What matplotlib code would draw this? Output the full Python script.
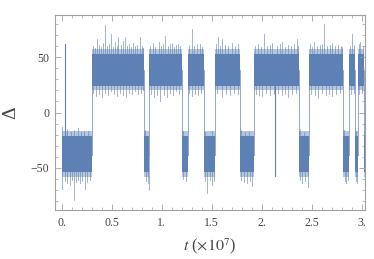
import matplotlib.pyplot as plt
import numpy as np

plt.rcParams["mathtext.fontset"] = "stix"

# switching times (units of 1e7) and state of the segment that starts there
switch_t = [0.0, 0.30, 0.825, 0.875, 1.20, 1.26, 1.42, 1.535, 1.78, 1.92,
            2.375, 2.47, 2.815, 2.87, 2.935, 2.96, 3.028, 3.035]
state = [-1, 1, -1, 1, -1, 1, -1, 1, -1, 1, -1, 1, -1, 1, -1, 1, -1]

# dense part of the noisy signal in each state: (fringe low, core low, core high, fringe high)
high_band = (20, 24, 53, 57)
low_band = (-58, -54, -21, -17)
high_level = 38
low_level = -38

# excursions above/below the dense band: (t, value)
spikes_high_top = [(0.31, 60), (0.33, 58), (0.35, 66), (0.37, 61), (0.39, 59), (0.41, 63),
                   (0.428, 79), (0.45, 60), (0.47, 62), (0.49, 71), (0.51, 59), (0.53, 64),
                   (0.55, 60), (0.567, 68), (0.59, 61), (0.61, 65), (0.63, 68), (0.65, 60),
                   (0.67, 62), (0.69, 59), (0.71, 63), (0.73, 60), (0.75, 61), (0.78, 68),
                   (0.80, 60), (0.815, 58),
                   (0.885, 60), (0.91, 63), (0.93, 59), (0.97, 64), (0.99, 60), (1.01, 62),
                   (1.035, 69), (1.06, 60), (1.08, 62), (1.10, 63), (1.12, 59), (1.14, 61),
                   (1.16, 62), (1.18, 60),
                   (1.27, 61), (1.30, 75), (1.32, 60), (1.35, 62), (1.38, 62), (1.40, 59),
                   (1.545, 62), (1.56, 68), (1.58, 60), (1.60, 66), (1.63, 61), (1.66, 60),
                   (1.70, 63), (1.73, 60), (1.76, 62),
                   (1.93, 60), (1.96, 62), (1.99, 59), (2.025, 71), (2.05, 60), (2.08, 61),
                   (2.10, 63), (2.15, 60), (2.18, 62), (2.20, 64), (2.23, 59), (2.26, 61),
                   (2.29, 60), (2.32, 62), (2.35, 66), (2.365, 60),
                   (2.48, 62), (2.50, 59), (2.52, 64), (2.55, 60), (2.58, 61), (2.60, 62),
                   (2.625, 80), (2.65, 60), (2.68, 61), (2.70, 63), (2.73, 60), (2.76, 61),
                   (2.79, 60), (2.805, 59),
                   (2.88, 60), (2.90, 71), (2.92, 61), (2.97, 62), (2.98, 64), (3.01, 60)]
spikes_high_bottom = [(0.31, 18), (0.34, 15), (0.37, 17), (0.40, 14), (0.43, 18), (0.46, 16),
                      (0.49, 19), (0.52, 17), (0.55, 15), (0.58, 18), (0.61, 16), (0.64, 14),
                      (0.67, 18), (0.70, 17), (0.73, 19), (0.76, 17), (0.79, 18), (0.81, 20),
                      (0.89, 17), (0.92, 14), (0.95, 16), (0.985, 10), (1.02, 16), (1.05, 14),
                      (1.08, 18), (1.11, 16), (1.14, 19), (1.17, 17),
                      (1.27, 18), (1.30, 15), (1.33, 17), (1.36, 16), (1.39, 18),
                      (1.55, 18), (1.60, 14), (1.64, 17), (1.68, 16), (1.72, 18), (1.76, 17),
                      (1.94, 17), (1.97, 16), (2.00, 15), (2.04, 18), (2.08, 16), (2.12, 17),
                      (2.16, 18), (2.20, 16), (2.23, 17), (2.26, 14), (2.30, 17), (2.34, 18),
                      (2.49, 17), (2.53, 16), (2.56, 13), (2.60, 18), (2.64, 16), (2.67, 17),
                      (2.70, 15), (2.74, 17), (2.78, 18),
                      (2.89, 17), (2.92, 18), (2.97, 17), (3.00, 18)]
spikes_low_bottom = [(0.005, -69), (0.03, -62), (0.05, -64), (0.08, -65), (0.10, -61),
                     (0.118, -79), (0.14, -63), (0.16, -61), (0.18, -64), (0.20, -62),
                     (0.23, -69), (0.25, -63), (0.28, -61),
                     (0.84, -62), (0.86, -64), (0.875, -70),
                     (1.21, -60), (1.24, -62),
                     (1.43, -62), (1.45, -73), (1.48, -61), (1.50, -65), (1.52, -62),
                     (1.79, -61), (1.82, -63), (1.85, -64), (1.88, -62), (1.90, -66),
                     (2.38, -61), (2.40, -64), (2.43, -62), (2.46, -67),
                     (2.83, -62), (2.84, -64), (2.86, -61),
                     (2.945, -62), (2.955, -64), (3.033, -66)]
spikes_low_top = [(0.005, -13), (0.03, -17), (0.05, -15), (0.09, -18), (0.12, -16),
                  (0.16, -14), (0.19, -18), (0.22, -17), (0.26, -17),
                  (0.83, -16), (1.21, -17), (1.43, -18), (1.50, -17),
                  (1.79, -16), (1.83, -18), (1.87, -17), (2.38, -15), (2.42, -18),
                  (2.82, -16), (2.94, -17)]
# excursions that cross to the other band
cross_up = [(0.03, 62)]
cross_down = [(2.13, -57)]

color = "#5E81B5"

fig = plt.figure(figsize=(3.74, 2.59), dpi=100)
ax = fig.add_axes([0.147, 0.189, 0.829, 0.753])

for i, s in enumerate(state):
    t0, t1 = switch_t[i], switch_t[i + 1]
    b = high_band if s > 0 else low_band
    ax.fill_between([t0, t1], b[0], b[3], color=color, alpha=0.45, lw=0)
    ax.fill_between([t0, t1], b[1], b[2], color=color, lw=0)

levels = [high_level if s > 0 else low_level for s in state]
ax.step(switch_t, levels + [levels[-1]], where="post", color=color, lw=0.6, alpha=0.8)

for t, v in spikes_high_top + spikes_high_bottom:
    ax.plot([t, t], [high_level, v], color=color, lw=0.55, alpha=0.75)
for t, v in spikes_low_top + spikes_low_bottom:
    ax.plot([t, t], [low_level, v], color=color, lw=0.55, alpha=0.75)
for t, v in cross_up:
    ax.plot([t, t], [low_level, v], color=color, lw=0.8)
for t, v in cross_down:
    ax.plot([t, t], [high_level, v], color=color, lw=0.8)

ax.set_xlim(-0.068, 3.035)
ax.set_ylim(-88, 88)

xt = [0, 0.5, 1, 1.5, 2, 2.5, 3]
xl = ["0.", "0.5", "1.", "1.5", "2.", "2.5", "3."]
ax.set_xticks(xt)
ax.set_xticklabels(xl)
ax.set_xticks(np.arange(0, 3.05, 0.1), minor=True)
ax.set_yticks([-50, 0, 50])
ax.set_yticklabels(["\u221250", "0", "50"])
ax.set_yticks(np.arange(-80, 81, 10), minor=True)

gray = "#a0a0a0"
for sp in ax.spines.values():
    sp.set_color(gray)
    sp.set_linewidth(0.8)
ax.tick_params(which="both", direction="in", top=True, right=True, color=gray,
               labelsize=8.5, labelcolor="#444444")
ax.tick_params(which="major", length=4, width=0.6, pad=4)
ax.tick_params(which="minor", length=2, width=0.5)
ax.tick_params(axis="x", which="major", pad=5)
for lab in ax.get_xticklabels() + ax.get_yticklabels():
    lab.set_family("Liberation Serif")

ax.set_xlabel(r"$t$ ($\times 10^7$)", fontsize=11.5, family="Liberation Serif",
              color="#444444", labelpad=5)
ax.set_ylabel("\u0394", fontsize=14, family="Liberation Serif", color="#444444",
              labelpad=8)

fig.savefig("out.png", dpi=100)
